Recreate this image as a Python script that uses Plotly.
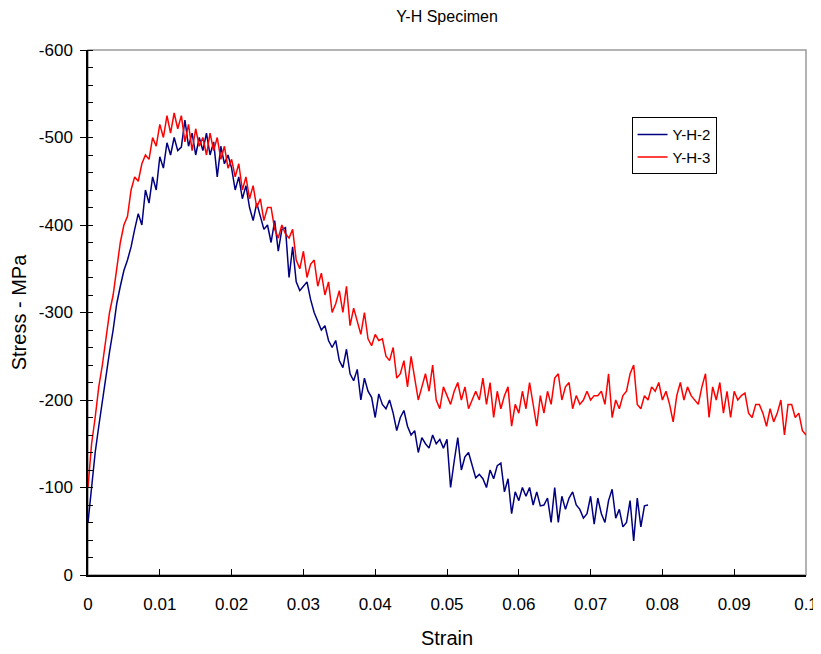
import numpy as np
import plotly.graph_objects as go

STEP = 0.0005

# Y-H-2 stress (MPa), strain 0 .. 0.078 every 0.0005
yh2_stress = [
    -60, -100, -140, -170, -200, -230, -255, -280, -310, -330,
    -348, -360, -375, -395, -413, -400, -440, -425, -455, -440,
    -478, -465, -494, -480, -500, -485, -489, -520, -490, -505,
    -480, -500, -485, -505, -480, -495, -455, -490, -470, -480,
    -465, -440, -455, -430, -445, -420, -405, -425, -410, -395,
    -400, -380, -405, -370, -395, -397, -340, -375, -335, -325,
    -330, -335, -315, -300, -290, -280, -285, -268, -260, -268,
    -245, -237, -258, -230, -222, -235, -200, -225, -210, -203,
    -180, -207, -195, -190, -200, -185, -165, -180, -188, -170,
    -160, -165, -140, -157, -150, -145, -160, -150, -155, -145,
    -155, -100, -130, -157, -120, -135, -140, -125, -111, -115,
    -110, -100, -120, -110, -125, -128, -95, -110, -70, -95,
    -85, -100, -90, -100, -80, -95, -79, -80, -88, -60,
    -100, -60, -90, -75, -88, -95, -80, -75, -65, -70,
    -90, -58, -88, -70, -60, -85, -98, -65, -75, -55,
    -60, -85, -39, -88, -55, -79, -80,
]

# Y-H-3 stress (MPa), strain 0 .. 0.1 every 0.0005
yh3_stress = [
    -100, -150, -180, -215, -240, -270, -300, -320, -350, -380,
    -400, -410, -440, -455, -450, -470, -480, -475, -500, -490,
    -515, -500, -525, -505, -528, -510, -525, -495, -515, -485,
    -510, -490, -500, -480, -505, -485, -500, -475, -490, -465,
    -475, -455, -470, -440, -455, -430, -445, -420, -430, -405,
    -420, -420, -395, -385, -400, -390, -385, -395, -360, -350,
    -370, -340, -355, -360, -330, -345, -320, -335, -300, -310,
    -325, -300, -330, -285, -305, -290, -275, -300, -270, -262,
    -275, -268, -270, -250, -245, -260, -225, -230, -245, -215,
    -250, -225, -200, -215, -230, -210, -240, -200, -190, -215,
    -205, -195, -210, -220, -200, -215, -190, -200, -210, -200,
    -225, -195, -220, -180, -210, -190, -205, -215, -170, -195,
    -185, -210, -190, -220, -195, -170, -205, -185, -210, -195,
    -225, -230, -200, -215, -220, -190, -205, -195, -200, -210,
    -200, -205, -205, -210, -195, -230, -180, -200, -190, -205,
    -210, -230, -240, -195, -190, -205, -200, -215, -210, -220,
    -200, -210, -195, -175, -205, -220, -200, -215, -205, -200,
    -195, -215, -230, -180, -215, -200, -220, -185, -210, -180,
    -210, -200, -205, -208, -185, -180, -195, -195, -185, -170,
    -190, -175, -185, -200, -160, -195, -195, -180, -185, -165,
    -160,
]

yh2_strain = np.round(np.arange(len(yh2_stress)) * STEP, 5)
yh3_strain = np.round(np.arange(len(yh3_stress)) * STEP, 5)

x_ticks = [0, 0.01, 0.02, 0.03, 0.04, 0.05, 0.06, 0.07, 0.08, 0.09, 0.1]
x_tick_labels = ["0", "0.01", "0.02", "0.03", "0.04", "0.05", "0.06", "0.07", "0.08", "0.09", "0.1"]
y_ticks = [0, -100, -200, -300, -400, -500, -600]
y_tick_labels = ["0", "-100", "-200", "-300", "-400", "-500", "-600"]

FONT = "Liberation Sans, Arial, sans-serif"

fig = go.Figure()
fig.add_trace(go.Scatter(x=yh2_strain, y=yh2_stress, mode="lines", name="Y-H-2",
                         line=dict(color="#000080", width=1.5)))
fig.add_trace(go.Scatter(x=yh3_strain, y=yh3_stress, mode="lines", name="Y-H-3",
                         line=dict(color="#FF0000", width=1.5)))

# gray plot-area frame (top/right visible)
fig.add_shape(type="rect", xref="paper", yref="paper", x0=0, y0=0, x1=1, y1=1,
              line=dict(color="#9a9a9a", width=1.5), layer="below")

fig.update_layout(
    width=821, height=654,
    margin=dict(l=80, r=23, t=42, b=87, autoexpand=False),
    paper_bgcolor="white", plot_bgcolor="white",
    font=dict(family=FONT, size=17, color="black"),
    title=dict(text="Y-H Specimen", x=0.5, xref="paper", xanchor="center",
               y=1 - 8 / 654, yanchor="middle", font=dict(size=16)),
    showlegend=True,
    legend=dict(x=0.757, y=0.872, xanchor="left", yanchor="top",
                bordercolor="black", borderwidth=1, bgcolor="white",
                font=dict(size=15), tracegroupgap=0),
    xaxis=dict(range=[0, 0.1], tickvals=x_ticks, ticktext=x_tick_labels,
               ticks="inside", ticklen=6, tickcolor="black", tickwidth=1,
               showline=True, linecolor="black", linewidth=1.5,
               showgrid=False, zeroline=False, ticklabelstandoff=13,
               automargin=False,
               title=dict(text="Strain", standoff=18)),
    yaxis=dict(range=[0, -600], tickvals=y_ticks, ticktext=y_tick_labels,
               ticks="outside", ticklen=6, tickcolor="black", tickwidth=1,
               showline=True, linecolor="black", linewidth=1.5,
               showgrid=False, zeroline=False, ticklabelstandoff=4,
               automargin=False,
               minor=dict(tickvals=list(range(0, -601, -20)), ticks="inside",
                          ticklen=5, tickcolor="black", showgrid=False),
               title=dict(text="Stress - MPa", standoff=12)),
)

fig.write_html("out.html")
